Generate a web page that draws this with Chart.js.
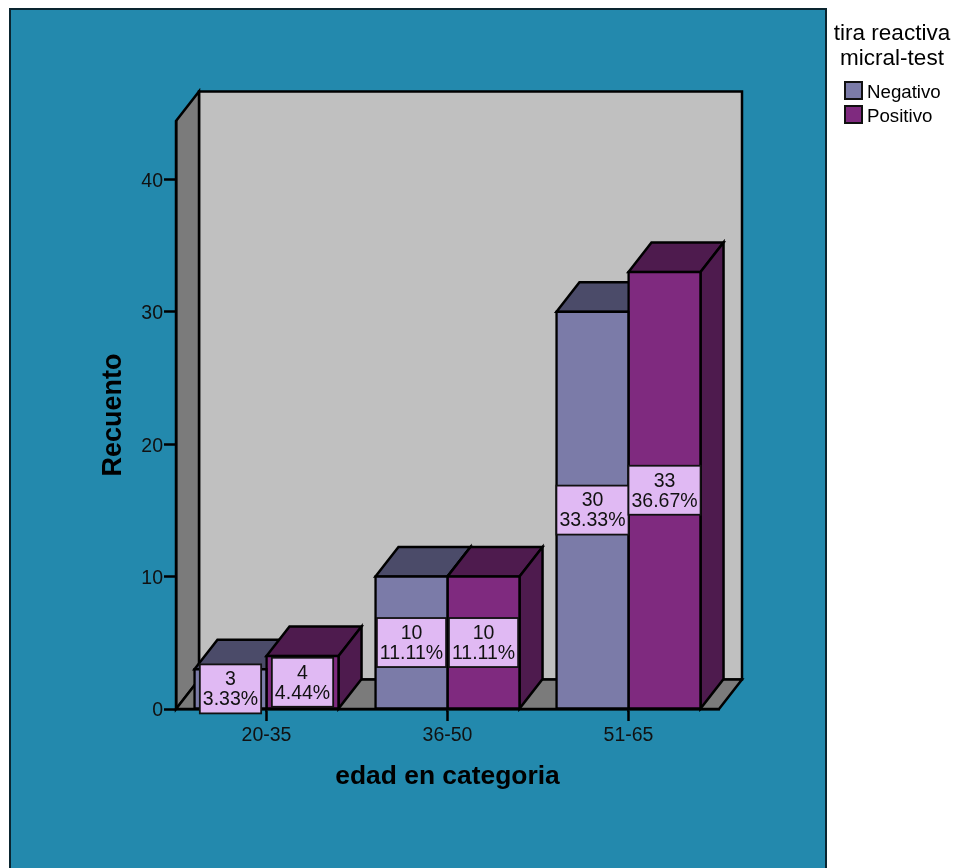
<!DOCTYPE html>
<html>
<head>
<meta charset="utf-8">
<script src="https://cdn.jsdelivr.net/npm/chart.js@4"></script>
<style>
html,body{margin:0;padding:0;background:#fff;overflow:hidden}
canvas{display:block}
</style>
</head>
<body>
<canvas id="chart" width="954" height="868"></canvas>
<script>
// Counts of the micral-test strip result by age group
const categories = ['20-35', '36-50', '51-65'];
const negativo = [3, 10, 30];
const positivo = [4, 10, 33];
const yTicks = [0, 10, 20, 30, 40];
const legendTitle = ['tira reactiva', 'micral-test'];
const seriesNames = ['Negativo', 'Positivo'];
const xTitle = 'edad en categoria';
const yTitle = 'Recuento';

const total = [...negativo, ...positivo].reduce((a, b) => a + b, 0);

const FONT = '"Liberation Sans", Arial, sans-serif';
const INK = '#000000';
const DEPTH_X = 23;
const DEPTH_Y = 29.5;
const LINE = 2.5;
const LABEL_SIZE = 19.5;

const palette = [
  { front: '#7b7ba8', depth: '#4b4b69' },
  { front: '#7f2a7f', depth: '#4e1b4e' }
];

function poly(ctx, pts, fill) {
  ctx.beginPath();
  pts.forEach((p, i) => (i ? ctx.lineTo(p[0], p[1]) : ctx.moveTo(p[0], p[1])));
  ctx.closePath();
  ctx.fillStyle = fill;
  ctx.fill();
  ctx.lineWidth = LINE;
  ctx.strokeStyle = INK;
  ctx.lineJoin = 'miter';
  ctx.stroke();
}

// Panel, back wall, side wall and floor of the 3D box
const stagePlugin = {
  id: 'stage',
  // Value labels sit slightly below their tick marks
  afterLayout(chart) {
    chart.scales.y.getLabelItems(chart.chartArea).forEach(item => {
      item.options.translation[1] += 2;
    });
  },
  beforeDraw(chart) {
    const { ctx, chartArea: a } = chart;
    ctx.save();
    ctx.fillStyle = '#ffffff';
    ctx.fillRect(0, 0, chart.width, chart.height);
    ctx.fillStyle = '#2389ad';
    ctx.fillRect(10, 9, 816, chart.height);
    ctx.strokeStyle = '#0a2530';
    ctx.lineWidth = 2;
    ctx.strokeRect(10, 9, 816, chart.height + 10);
    const dx = DEPTH_X, dy = DEPTH_Y;
    poly(ctx, [[a.left + dx, a.top - dy], [a.right + dx, a.top - dy], [a.right + dx, a.bottom - dy], [a.left + dx, a.bottom - dy]], '#c0c0c0');
    poly(ctx, [[a.left, a.top], [a.left + dx, a.top - dy], [a.left + dx, a.bottom - dy], [a.left, a.bottom]], '#7b7b7b');
    poly(ctx, [[a.left, a.bottom], [a.left + dx, a.bottom - dy], [a.right + dx, a.bottom - dy], [a.right, a.bottom]], '#7b7b7b');
    ctx.restore();
  },
  // Top and side faces of each bar, behind the fronts the library draws
  beforeDatasetsDraw(chart) {
    const { ctx } = chart;
    ctx.save();
    chart.data.datasets.forEach((ds, i) => {
      chart.getDatasetMeta(i).data.forEach(bar => {
        const l = bar.x - bar.width / 2, r = bar.x + bar.width / 2;
        const t = bar.y, b = bar.base;
        const fill = palette[i].depth;
        poly(ctx, [[l, t], [l + DEPTH_X, t - DEPTH_Y], [r + DEPTH_X, t - DEPTH_Y], [r, t]], fill);
        poly(ctx, [[r, t], [r + DEPTH_X, t - DEPTH_Y], [r + DEPTH_X, b - DEPTH_Y], [r, b]], fill);
      });
    });
    ctx.restore();
  },
  // Count and percentage boxes centred on each bar, then the legend
  afterDatasetsDraw(chart) {
    const { ctx } = chart;
    ctx.save();
    ctx.font = LABEL_SIZE + 'px ' + FONT;
    ctx.textAlign = 'center';
    ctx.textBaseline = 'middle';
    chart.data.datasets.forEach((ds, i) => {
      chart.getDatasetMeta(i).data.forEach((bar, j) => {
        const v = ds.data[j];
        const pct = (v / total * 100).toFixed(2) + '%';
        const w = Math.max(ctx.measureText(pct).width, ctx.measureText(String(v)).width) + 6;
        const h = 49;
        const cy = (bar.y + bar.base) / 2;
        ctx.fillStyle = '#e0b9f3';
        ctx.strokeStyle = '#111111';
        ctx.lineWidth = 1.8;
        ctx.fillRect(bar.x - w / 2, cy - h / 2, w, h);
        ctx.strokeRect(bar.x - w / 2, cy - h / 2, w, h);
        ctx.fillStyle = '#111111';
        ctx.fillText(String(v), bar.x, cy - 9);
        ctx.fillText(pct, bar.x, cy + 11);
      });
    });

    ctx.fillStyle = INK;
    ctx.font = '22.5px ' + FONT;
    legendTitle.forEach((line, k) => ctx.fillText(line, 892, 34 + k * 25));
    ctx.textAlign = 'left';
    ctx.font = '18.7px ' + FONT;
    chart.data.datasets.forEach((ds, i) => {
      const y = 82 + i * 24;
      ctx.fillStyle = palette[i].front;
      ctx.strokeStyle = '#111111';
      ctx.lineWidth = 2;
      ctx.fillRect(845, y, 17, 17);
      ctx.strokeRect(845, y, 17, 17);
      ctx.fillStyle = INK;
      ctx.fillText(ds.label, 867, y + 11);
    });
    ctx.restore();
  }
};

const makeSeries = (i, values) => ({
  label: seriesNames[i],
  data: values,
  backgroundColor: palette[i].front,
  borderColor: INK,
  borderWidth: LINE,
  borderSkipped: false,
  inflateAmount: 1.25,
  barPercentage: 1,
  categoryPercentage: 0.796
});

new Chart(document.getElementById('chart'), {
  type: 'bar',
  data: {
    labels: categories,
    datasets: [makeSeries(0, negativo), makeSeries(1, positivo)]
  },
  plugins: [stagePlugin],
  options: {
    responsive: false,
    animation: false,
    layout: { padding: { top: 121, right: 235, bottom: 0, left: 0 } },
    plugins: { legend: { display: false }, tooltip: { enabled: false }, title: { display: false } },
    scales: {
      x: {
        grid: { offset: false, drawOnChartArea: false, drawTicks: true, tickLength: 12, tickColor: INK, tickWidth: LINE },
        border: { display: true, color: INK, width: LINE },
        ticks: { color: '#111111', font: { family: FONT, size: LABEL_SIZE }, padding: 3, maxRotation: 0 },
        title: { display: true, text: xTitle, color: INK, font: { family: FONT, size: 26.4, weight: 'bold' }, padding: { top: 0, bottom: 75 } },
        afterFit(scale) { scale.height = 159; }
      },
      y: {
        min: 0,
        max: 44.4,
        afterBuildTicks(scale) { scale.ticks = yTicks.map(value => ({ value })); },
        grid: { drawOnChartArea: false, drawTicks: true, tickLength: 12, tickColor: INK, tickWidth: LINE },
        border: { display: true, color: INK, width: LINE },
        ticks: { color: '#111111', font: { family: FONT, size: LABEL_SIZE }, padding: 1, includeBounds: false },
        title: { display: true, text: yTitle, color: INK, font: { family: FONT, size: 27, weight: 'bold' }, padding: { top: 97, bottom: 0 } },
        afterFit(scale) { scale.width = 176; }
      }
    }
  }
});
</script>
</body>
</html>
